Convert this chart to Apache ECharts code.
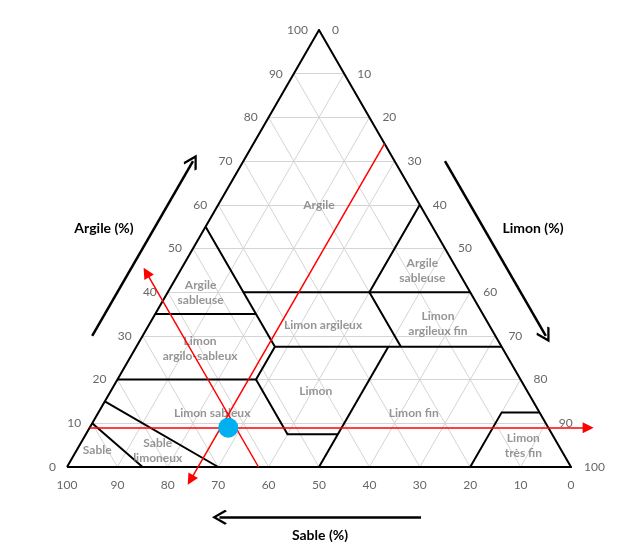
<!DOCTYPE html>
<html>
<head>
<meta charset="utf-8">
<script src="https://cdn.jsdelivr.net/npm/echarts@6/dist/echarts.min.js"></script>
<style>
  html, body { margin: 0; background: #fff; }
  #chart { width: 640px; height: 554px; }
</style>
</head>
<body>
<div id="chart"></div>
<script>
  // graduations des trois côtés (%)
  var ticks = [0, 10, 20, 30, 40, 50, 60, 70, 80, 90, 100];

  // tous les points sont [sable, limon, argile] en %
  var triangle = [[100, 0, 0], [0, 100, 0], [0, 0, 100], [100, 0, 0]];

  // limites des classes de texture
  var classLines = [
    [[45, 0, 55], [45, 27.5, 27.5], [52.5, 27.5, 20], [52.5, 40, 7.5], [42.5, 50, 7.5]],
    [[45, 15, 40], [0, 60, 40]],
    [[65, 0, 35], [45, 20, 35]],
    [[45, 27.5, 27.5], [0, 72.5, 27.5]],
    [[80, 0, 20], [52.5, 27.5, 20]],
    [[0, 40, 60], [20, 40, 40], [20, 52.5, 27.5]],
    [[22.5, 50, 27.5], [50, 50, 0]],
    [[85, 0, 15], [70, 30, 0]],
    [[90, 0, 10], [85, 15, 0]],
    [[20, 80, 0], [7.5, 80, 12.5], [0, 87.5, 12.5]]
  ];

  var classNames = ['Argile', 'Argile\nsableuse', 'Limon\nargilo-sableux', 'Limon argileux',
    'Argile\nsableuse', 'Limon\nargileux fin', 'Limon', 'Limon sableux', 'Limon fin',
    'Limon\ntrès fin', 'Sable', 'Sable\nlimoneux'];
  var classPos = [[20, 20, 60], [53.5, 6.5, 40], [60, 12.8, 27.2], [33, 34.6, 32.4],
    [7, 48, 45], [10, 57.2, 32.8], [42, 40.7, 17.3], [65, 22.6, 12.4], [25, 62.6, 12.4],
    [7, 88.1, 4.9], [92, 4.1, 3.8], [80, 16.1, 3.8]];

  // échantillon mesuré et lignes de lecture
  var sample = [63.5, 27.5, 9];
  var readLines = [
    [[91, 0, 9], [-7.9, 98.9, 9]],
    [[0, 26, 74], [77, 26, -3]],
    [[62, 38, 0], [62, -6.5, 44.5]]
  ];

  // flèches des axes
  var axisArrows = [
    [[80, -10, 30], [40, -10, 70]],
    [[-10, 40, 70], [-10, 80, 30]],
    [[36, 76, -11.5], [76, 36, -11.5]]
  ];

  function xy(p) {
    return [p[1] + p[2] / 2, p[2]];
  }

  var gridSegs = [];
  ticks.slice(1, -1).forEach(function (t) {
    gridSegs.push({coords: [xy([100 - t, 0, t]), xy([0, 100 - t, t])]});
    gridSegs.push({coords: [xy([t, 100 - t, 0]), xy([t, 0, 100 - t])]});
    gridSegs.push({coords: [xy([100 - t, t, 0]), xy([0, t, 100 - t])]});
  });

  var tickFont = {fontFamily: 'Lato', fontSize: 12, color: '#404040'};
  var titleStyle = {fontFamily: 'Lato', fontWeight: 'bold', fontSize: 14, fill: '#000', align: 'center', verticalAlign: 'middle'};

  function tickSeries(pts, pos, dist) {
    return {
      type: 'scatter', symbolSize: 0, silent: true, clip: false, z: 5,
      data: pts,
      label: Object.assign({
        show: true, position: pos, distance: dist,
        formatter: function (p) { return p.value[2]; }
      }, tickFont)
    };
  }

  var chart = echarts.init(document.getElementById('chart'));
  chart.setOption({
    animation: false,
    grid: {left: 67, top: 30, width: 504, height: 437},
    xAxis: {type: 'value', min: 0, max: 100, show: false},
    yAxis: {type: 'value', min: 0, max: 100, show: false},
    graphic: [
      {type: 'text', x: 104, y: 228, style: Object.assign({text: 'Argile (%)'}, titleStyle)},
      {type: 'text', x: 533, y: 228, style: Object.assign({text: 'Limon (%)'}, titleStyle)},
      {type: 'text', x: 320, y: 535, style: Object.assign({text: 'Sable (%)'}, titleStyle)}
    ],
    series: [
      {
        type: 'lines', coordinateSystem: 'cartesian2d', silent: true, z: 1,
        lineStyle: {color: '#d4d4d4', width: 1, opacity: 1},
        data: gridSegs
      },
      {
        type: 'lines', coordinateSystem: 'cartesian2d', polyline: true, silent: true, z: 3,
        lineStyle: {color: '#000', width: 2, opacity: 1},
        data: [triangle].concat(classLines).map(function (l) { return {coords: l.map(xy)}; })
      },
      {
        type: 'scatter', symbolSize: 0, silent: true, z: 4,
        data: classPos.map(function (p, i) { return {name: classNames[i], value: xy(p)}; }),
        label: {
          show: true, position: 'inside', formatter: '{b}',
          fontFamily: 'Lato', fontSize: 12, fontWeight: 'bold', color: '#7a7a7a', lineHeight: 15
        }
      },
      // graduations : argile à gauche, limon à droite, sable en bas
      tickSeries(ticks.map(function (t) { return xy([100 - t, 0, t]).concat(t); }), 'left', 11),
      tickSeries(ticks.map(function (t) { return xy([0, t, 100 - t]).concat(t); }), 'right', 13),
      tickSeries(ticks.map(function (t) { return xy([t, 100 - t, 0]).concat(t); }), 'bottom', 12),
      {
        type: 'lines', coordinateSystem: 'cartesian2d', silent: true, clip: false, z: 6,
        symbol: ['none', 'triangle'], symbolSize: [8, 11],
        lineStyle: {color: '#ff0000', width: 1.5, opacity: 1},
        data: readLines.map(function (l) { return {coords: l.map(xy)}; })
      },
      {
        type: 'scatter', clip: false, silent: true, z: 7,
        symbolSize: 20, itemStyle: {color: '#00b0f0', opacity: 1},
        data: [xy(sample)]
      },
      {
        type: 'lines', coordinateSystem: 'cartesian2d', silent: true, clip: false, z: 6,
        symbol: ['none', 'path://M0,0 L10,13 L8,15 L0,4.5 L-8,15 L-10,13 Z'], symbolSize: [15, 15],
        lineStyle: {color: '#000', width: 2.5, opacity: 1},
        data: axisArrows.map(function (l) { return {coords: l.map(xy)}; })
      }
    ]
  });
</script>
</body>
</html>
